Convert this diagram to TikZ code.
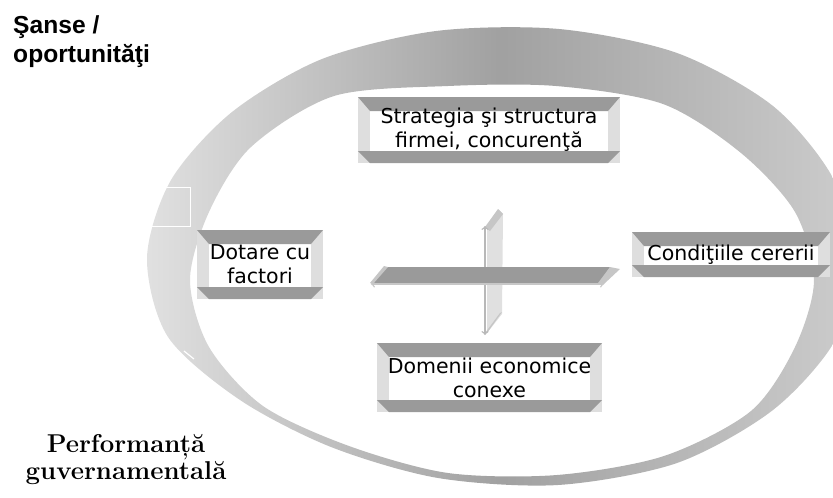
\documentclass[tikz,border=0pt]{standalone}
\usepackage{fontspec}
\usetikzlibrary{calc,positioning}
\newfontfamily\boxfont{DejaVu Sans}
\newfontfamily\arialfont{Liberation Sans}
\definecolor{bandgray}{HTML}{9A9A9A}
\definecolor{sidegray}{HTML}{DEDEDE}
\definecolor{capgray}{HTML}{C6C6C6}
\pgfdeclarehorizontalshading{ringshade}{100bp}{color(0bp)=(black!12); color(25bp)=(black!12); color(50bp)=(black!37); color(75bp)=(black!20); color(100bp)=(black!20)}
\tikzset{
	bevel/.style={fill=white, inner sep=0pt, align=center,
		font=\boxfont\fontsize{17.5}{20.5}\selectfont,
		path picture={
			\coordinate (nw) at (path picture bounding box.north west);
			\coordinate (se) at (path picture bounding box.south east);
			\fill[sidegray] (nw) rectangle (se);
			\fill[white] ($(nw)+(12,0)$) rectangle ($(se)+(-12,0)$);
			\fill[bandgray] (nw) -- (nw -| se) -- ($(nw -| se)+(-12,14)$) -- ($(nw)+(12,14)$) -- cycle;
			\fill[bandgray] ($(se -| nw)+(0,-12)$) -- ($(se)+(0,-12)$) -- ($(se)+(-12,0)$) -- ($(se -| nw)+(12,0)$) -- cycle;
		}},
}
\begin{document}
\begin{tikzpicture}[x=0.03cm, y=-0.03cm]
	\useasboundingbox (0,0) rectangle (833,497);
	\clip (0,0) rectangle (833,497);
	% ring
	\shade[shading=ringshade, even odd rule]
		plot[smooth cycle] coordinates {(854,258) (836,339) (773,410) (677,463) (558,485) (438,478) (331,447) (240,400) (168,337) (147,258) (171,180) (232,112) (322,59) (436,31) (559,29) (677,53) (773,106) (833,178)}
		plot[smooth cycle] coordinates {(814,280) (795,347) (751,411) (664,456) (557,475) (448,473) (349,446) (263,406) (209,347) (190,280) (209,212) (251,147) (334,96) (448,86) (556,86) (663,104) (741,153) (795,212)};
	\draw[white, line width=0.8pt] (150,187) rectangle (190,226);
	\draw[white, line width=1pt] (184,351) -- (194,359);
	% boxes
	\node[bevel, minimum width=7.86cm, minimum height=1.98cm] at (489,130) (strat) {Strategia şi structura\\firmei, concurenţă};
	\node[bevel, minimum width=3.78cm, minimum height=2.07cm] at (260,264.5) (dot) {Dotare cu\\factori};
	\node[bevel, minimum width=5.94cm, minimum height=1.35cm] at (731,254.5) (cond) {Condiţiile cererii};
	\node[bevel, minimum width=6.75cm, minimum height=2.07cm] at (489.5,377.5) (dom) {Domenii economice\\conexe};
	% vertical arrow
	\coordinate (vn) at (485,226);
	\coordinate (vs) at (485,335);
	\fill[black!12] (487,228) -- (499,210) -- (503,214) -- (502,314) -- (487,333) -- cycle;
	\fill[capgray] (485,227) -- (498,209) -- (503,214) -- (490,231) -- cycle;
	\fill[capgray] (502,312) -- (487,333) -- (485,333) -- (500,313) -- cycle;
	\draw[<->, black!28, line width=1.2pt] (vn) -- (vs);
	% horizontal arrow
	\coordinate (hw) at (371,284);
	\coordinate (he) at (604,284);
	\fill[bandgray] (385,267) -- (610,267) -- (600,283) -- (372,283) -- cycle;
	\fill[capgray] (610,267) -- (620,269) -- (604,284) -- (598,283) -- cycle;
	\fill[capgray] (384,266) -- (388,267) -- (373,284) -- (370,283) -- cycle;
	\draw[<->, black!22, line width=1.2pt] (hw) -- (he);
	% labels
	\node[font=\arialfont\bfseries\fontsize{21}{24.7}\selectfont, align=left, anchor=north west, inner sep=0pt] at (13,15) (sanse) {Şanse /\\oportunităţi};
	\node[font=\bfseries\fontsize{22}{23}\selectfont, align=center, anchor=north, inner sep=0pt] at (126,434) (perf) {Performanță\\guvernamentală};
\end{tikzpicture}
\end{document}
